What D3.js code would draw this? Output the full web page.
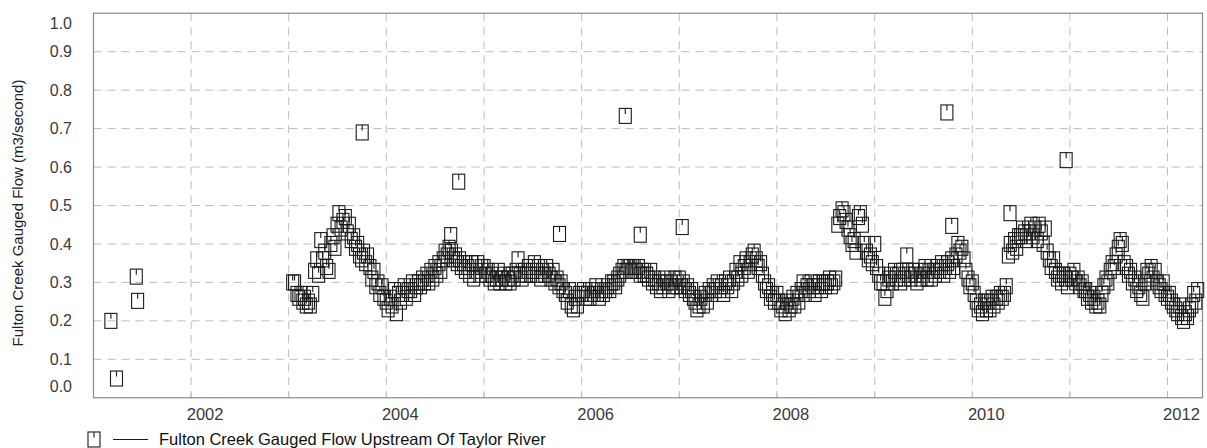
<!DOCTYPE html>
<html>
<head>
<meta charset="utf-8">
<script src="https://cdn.jsdelivr.net/npm/d3@7"></script>
<style>
  body { margin: 0; background: #fff; }
  svg { display: block; }
  text { font-family: "Liberation Sans", Arial, sans-serif; }
</style>
</head>
<body>
<svg id="chart" width="1207" height="448"></svg>
<script>
// Axis ticks
const yTicks = [0.0, 0.1, 0.2, 0.3, 0.4, 0.5, 0.6, 0.7, 0.8, 0.9, 1.0];
const yearLines = [2002, 2003, 2004, 2005, 2006, 2007, 2008, 2009, 2010, 2011, 2012];
const yearLabels = [2002, 2004, 2006, 2008, 2010, 2012];

// Early 2001 gaugings
const earlyDates = ["2001-03-07", "2001-03-28", "2001-06-10", "2001-06-15"];
const earlyFlow = [0.20, 0.05, 0.315, 0.252];

// Weekly gauged flow (m3/s): four readings a month, on the 1st, 8th, 16th and 23rd.
// null = no reading.
const flow2003 = [null, null, 0.30, 0.30,  0.27, 0.26, 0.27, 0.25,  0.26, 0.24, 0.25, 0.24,
                  0.27, 0.33, 0.36, 0.32,  0.41, 0.36, 0.38, 0.34,  0.33, 0.40, 0.42, 0.39,
                  0.45, 0.48, 0.44, 0.46,  0.47, 0.43, 0.45, 0.41,  0.42, 0.39, 0.40, 0.37,
                  0.36, 0.38, 0.35, 0.37,  0.34, 0.31, 0.33, 0.29,  0.30, 0.27, 0.29, 0.26];
const flow2004 = [0.25, 0.23, 0.26, 0.24,  0.28, 0.22, 0.27, 0.25,  0.27, 0.29, 0.26, 0.28,
                  0.28, 0.30, 0.27, 0.29,  0.30, 0.29, 0.31, 0.30,  0.32, 0.30, 0.33, 0.31,
                  0.34, 0.32, 0.35, 0.33,  0.36, 0.38, 0.37, 0.39,  0.38, 0.36, 0.37, 0.35,
                  0.36, 0.34, 0.35, 0.33,  0.34, 0.32, 0.35, 0.31,  0.33, 0.35, 0.32, 0.34];
const flow2005 = [0.34, 0.32, 0.33, 0.31,  0.32, 0.30, 0.31, 0.33,  0.30, 0.31, 0.32, 0.30,
                  0.31, 0.30, 0.32, 0.31,  0.33, 0.36, 0.32, 0.31,  0.33, 0.32, 0.34, 0.32,
                  0.33, 0.35, 0.32, 0.34,  0.31, 0.33, 0.32, 0.34,  0.32, 0.31, 0.33, 0.30,
                  0.31, 0.29, 0.30, 0.28,  0.27, 0.25, 0.28, 0.24,  0.23, 0.26, 0.24, 0.27];
const flow2006 = [0.27, 0.28, 0.26, 0.27,  0.26, 0.28, 0.27, 0.29,  0.27, 0.26, 0.28, 0.27,
                  0.28, 0.29, 0.28, 0.30,  0.30, 0.29, 0.31, 0.32,  0.33, 0.34, 0.33, 0.34,
                  0.34, 0.33, 0.34, 0.33,  0.34, 0.32, 0.33, 0.32,  0.32, 0.31, 0.33, 0.30,
                  0.31, 0.29, 0.30, 0.28,  0.29, 0.31, 0.30, 0.28,  0.30, 0.29, 0.31, 0.29];
const flow2007 = [0.31, 0.29, 0.30, 0.28,  0.29, 0.27, 0.28, 0.26,  0.25, 0.23, 0.24, 0.26,
                  0.24, 0.27, 0.25, 0.28,  0.27, 0.29, 0.28, 0.30,  0.28, 0.29, 0.27, 0.30,
                  0.29, 0.31, 0.28, 0.30,  0.33, 0.31, 0.35, 0.32,  0.34, 0.36, 0.33, 0.35,
                  0.37, 0.38, 0.36, 0.34,  0.35, 0.32, 0.30, 0.28,  0.29, 0.26, 0.27, 0.25];
const flow2008 = [0.27, 0.25, 0.23, 0.24,  0.22, 0.25, 0.23, 0.24,  0.26, 0.24, 0.27, 0.25,
                  0.28, 0.30, 0.27, 0.29,  0.28, 0.30, 0.29, 0.27,  0.29, 0.30, 0.28, 0.30,
                  0.29, 0.30, 0.31, 0.29,  0.30, 0.31, 0.45, 0.47,  0.49, 0.48, 0.46, 0.44,
                  0.42, 0.40, 0.41, 0.38,  0.47, 0.48, 0.45, 0.40,  0.38, 0.36, 0.37, 0.35];
const flow2009 = [0.40, 0.34, 0.32, 0.30,  0.30, 0.26, 0.28, 0.31,  0.32, 0.30, 0.33, 0.31,
                  0.32, 0.30, 0.33, 0.31,  0.37, 0.32, 0.31, 0.33,  0.32, 0.30, 0.33, 0.31,
                  0.32, 0.34, 0.31, 0.33,  0.31, 0.33, 0.32, 0.34,  0.33, 0.35, 0.32, 0.34,
                  0.35, 0.33, 0.36, 0.34,  0.37, 0.40, 0.38, 0.39,  0.36, 0.33, 0.31, 0.29];
const flow2010 = [0.30, 0.27, 0.25, 0.23,  0.24, 0.22, 0.25, 0.23,  0.25, 0.23, 0.26, 0.24,
                  0.26, 0.25, 0.27, 0.26,  0.27, 0.29, 0.37, 0.40,  0.38, 0.41, 0.39, 0.42,
                  0.42, 0.44, 0.43, 0.41,  0.43, 0.45, 0.42, 0.44,  0.41, 0.45, 0.43, 0.40,
                  0.44, 0.38, 0.36, 0.34,  0.36, 0.33, 0.31, 0.32,  0.30, 0.32, 0.31, 0.29];
const flow2011 = [0.32, 0.31, 0.33, 0.30,  0.31, 0.29, 0.30, 0.28,  0.28, 0.26, 0.27, 0.25,
                  0.26, 0.24, 0.25, 0.24,  0.27, 0.29, 0.31, 0.30,  0.33, 0.35, 0.34, 0.37,
                  0.39, 0.41, 0.40, 0.35,  0.34, 0.32, 0.33, 0.30,  0.31, 0.28, 0.29, 0.27,
                  0.26, 0.30, 0.33, 0.32,  0.34, 0.31, 0.33, 0.30,  0.29, 0.28, 0.30, 0.27];
const flow2012 = [0.26, 0.27, 0.25, 0.24,  0.23, 0.22, 0.24, 0.21,  0.20, 0.22, 0.21, 0.23,
                  0.24, 0.27, 0.25, 0.28];

// Isolated high gaugings
const spotDates = ["2003-10-03", "2004-08-29", "2004-09-28", "2005-10-10", "2006-06-13",
                   "2006-08-08", "2007-01-12", "2009-09-28", "2009-10-16", "2010-05-22",
                   "2010-12-18"];
const spotFlow = [0.69, 0.423, 0.562, 0.426, 0.733, 0.424, 0.444, 0.742, 0.447, 0.48, 0.618];

const seriesName = "Fulton Creek Gauged Flow Upstream Of Taylor River";
const yTitle = "Fulton Creek Gauged Flow (m3/second)";

// Assemble records
const parse = d3.timeParse("%Y-%m-%d");
const readingDays = [1, 8, 16, 23];
const records = [];
earlyDates.forEach((d, i) => records.push({ date: parse(d), value: earlyFlow[i] }));
[[2003, flow2003], [2004, flow2004], [2005, flow2005], [2006, flow2006], [2007, flow2007],
 [2008, flow2008], [2009, flow2009], [2010, flow2010], [2011, flow2011], [2012, flow2012]]
  .forEach(([yr, vals]) => vals.forEach((v, k) => {
    if (v === null) return;
    records.push({ date: new Date(yr, Math.floor(k / 4), readingDays[k % 4]), value: v });
  }));
spotDates.forEach((d, i) => records.push({ date: parse(d), value: spotFlow[i] }));
records.sort((a, b) => a.date - b.date);

// Layout
const plotL = 93.5, plotR = 1202.5, plotT = 13.25, plotB = 397.75;
const svg = d3.select("#chart");

const x = d3.scaleTime()
  .domain([new Date(2001, 0, 1), new Date(2012, 4, 11)])
  .range([plotL, plotR]);
const y = d3.scaleLinear().domain([0, 1]).range([plotB, plotT]);

// Gridlines
const grid = svg.append("g").attr("stroke", "#bdbdbd").attr("stroke-width", 1)
  .attr("stroke-dasharray", "8,6").attr("fill", "none");
grid.selectAll("line.h").data(yTicks.filter(t => t > 0 && t < 1)).join("line")
  .attr("class", "h")
  .attr("x1", plotL).attr("x2", plotR)
  .attr("y1", d => y(d)).attr("y2", d => y(d));
grid.selectAll("line.v").data(yearLines).join("line")
  .attr("class", "v")
  .attr("x1", d => x(new Date(d, 0, 1))).attr("x2", d => x(new Date(d, 0, 1)))
  .attr("y1", plotT).attr("y2", plotB);

// Small inner ticks on the time axis
svg.append("g").attr("stroke", "#bdbdbd").attr("stroke-width", 1)
  .selectAll("line").data(yearLines).join("line")
  .attr("x1", d => x(new Date(d, 0, 1))).attr("x2", d => x(new Date(d, 0, 1)))
  .attr("y1", plotB - 5).attr("y2", plotB);

// Frame
svg.append("rect").attr("x", plotL).attr("y", plotT)
  .attr("width", plotR - plotL).attr("height", plotB - plotT)
  .attr("fill", "none").attr("stroke", "#8a8a8a").attr("stroke-width", 1.2);

// Y tick labels (end labels nudged inside the frame)
svg.append("g").selectAll("text").data(yTicks).join("text")
  .attr("x", 72)
  .attr("y", d => y(d) + (d === 1 ? 10 : d === 0 ? -11 : 0))
  .attr("dy", "0.35em")
  .attr("text-anchor", "end")
  .attr("font-size", 16)
  .attr("fill", "#3a3a3a")
  .text(d => d3.format(".1f")(d));

// X tick labels
svg.append("g").selectAll("text").data(yearLabels).join("text")
  .attr("x", d => x(new Date(d, 0, 1)) + 14)
  .attr("y", 414)
  .attr("dy", "0.35em")
  .attr("text-anchor", "middle")
  .attr("font-size", 16.5)
  .attr("fill", "#3a3a3a")
  .text(d => d);

// Y title
svg.append("text")
  .attr("transform", "translate(23,213) rotate(-90)")
  .attr("text-anchor", "middle")
  .attr("font-size", 15)
  .attr("fill", "#222")
  .text(yTitle);

// Marker: box with a short stem hanging from the top edge
function marker(sel) {
  sel.append("rect").attr("x", -6).attr("y", -7.5).attr("width", 12).attr("height", 15);
  sel.append("line").attr("x1", 0).attr("x2", 0).attr("y1", -7.5).attr("y2", -2);
}

const pts = svg.append("g").attr("fill", "none").attr("stroke", "#1a1a1a").attr("stroke-width", 1.1);
pts.selectAll("g").data(records).join("g")
  .attr("transform", d => `translate(${x(d.date)},${y(d.value)})`)
  .call(marker);

// Legend
const lg = svg.append("g");
lg.append("g").attr("transform", "translate(94,439.5)")
  .attr("fill", "none").attr("stroke", "#1a1a1a").attr("stroke-width", 1.1)
  .call(marker);
lg.append("line").attr("x1", 113).attr("x2", 148).attr("y1", 439.5).attr("y2", 439.5)
  .attr("stroke", "#1a1a1a").attr("stroke-width", 1);
lg.append("text").attr("x", 159).attr("y", 444.5)
  .attr("font-size", 16.5).attr("fill", "#111").text(seriesName);
</script>
</body>
</html>
